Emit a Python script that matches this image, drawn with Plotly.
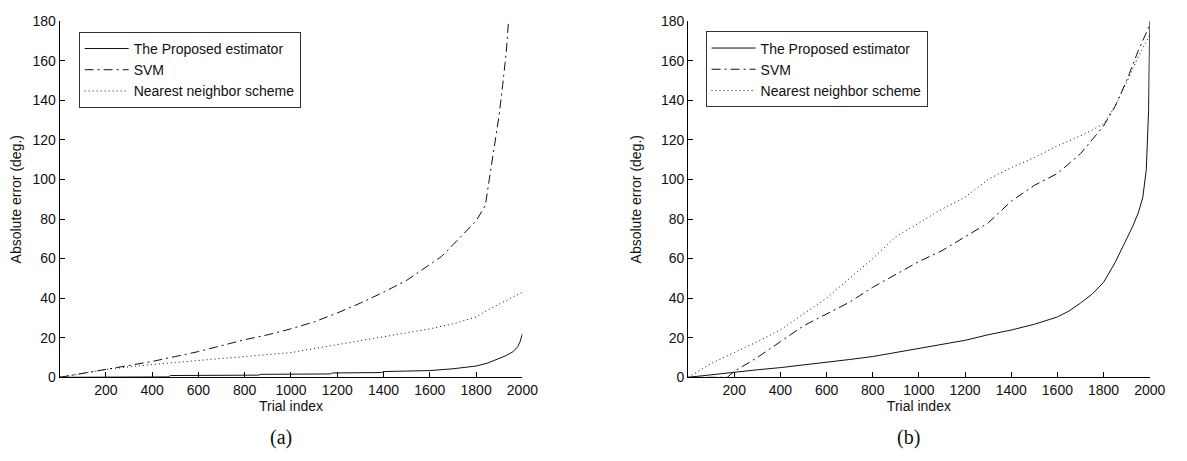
import plotly.graph_objects as go

# ---------------- data ----------------
# Panel (a)
trial_a_prop = [1, 470, 480, 860, 870, 1170, 1180, 1390, 1400, 1570, 1600, 1700, 1800, 1850,
                1900, 1930, 1960, 1980, 1990, 2000]
err_a_prop = [0, 0.2, 0.9, 1.1, 1.5, 1.7, 2.2, 2.4, 2.9, 3.1, 3.4, 4.3, 5.7, 7.2,
              9.6, 11, 13, 15.5, 18, 22]

trial_a_svm = [1, 100, 200, 300, 400, 500, 600, 700, 800, 900, 1000, 1100, 1200, 1300, 1400,
               1500, 1600, 1650, 1700, 1750, 1800, 1840, 1860, 1880, 1900, 1915, 1930, 1940]
err_a_svm = [0, 2, 4, 6, 8, 10.5, 13, 16, 19, 21.5, 24.5, 28, 32.5, 37.5, 43,
             49, 57, 61, 67, 73, 79, 87, 102, 118, 133, 148, 164, 180]

trial_a_nn = [1, 100, 200, 300, 400, 500, 600, 700, 800, 900, 1000, 1100, 1200, 1300, 1400,
              1500, 1600, 1700, 1800, 1850, 1900, 1950, 2000]
err_a_nn = [0, 2, 4, 5.3, 6.5, 7.5, 8.5, 9.5, 10.5, 11.5, 12.5, 14.5, 16.5, 18.5, 20.5,
            22.5, 24.5, 27, 30.5, 34, 37, 40, 43]

# Panel (b)
trial_b_prop = [1, 100, 200, 300, 400, 500, 600, 700, 800, 900, 1000, 1100, 1200, 1300, 1400,
                1500, 1600, 1650, 1700, 1750, 1800, 1850, 1900, 1925, 1950, 1970, 1985, 1995, 2000]
err_b_prop = [0, 1.3, 2.7, 3.8, 4.9, 6.2, 7.6, 9, 10.5, 12.5, 14.4, 16.5, 18.7, 21.5, 23.9,
              26.8, 30.5, 33.5, 37.5, 42, 48, 58, 70, 76, 83, 91, 105, 135, 180]

trial_b_svm = [1, 170, 200, 300, 400, 450, 500, 600, 700, 800, 900, 1000, 1100, 1200, 1300,
               1400, 1500, 1600, 1700, 1800, 1850, 1900, 1950, 2000]
err_b_svm = [0, 0, 3, 10, 18, 22, 26, 32, 38, 45.5, 52, 58.5, 64, 71, 78,
             89, 97, 103, 113, 127, 137, 150, 165, 178]

trial_b_nn = [1, 100, 200, 300, 400, 500, 600, 700, 800, 900, 1000, 1100, 1200, 1300, 1400,
              1500, 1600, 1700, 1800, 1850, 1900, 1950, 2000]
err_b_nn = [0, 7, 12.5, 18, 24, 32, 40, 50, 60, 71, 78, 85, 91, 100, 106,
            111, 117, 122, 128, 137, 149, 162, 173]

series_names = ["The Proposed estimator", "SVM", "Nearest neighbor scheme"]
x_ticks = [200, 400, 600, 800, 1000, 1200, 1400, 1600, 1800, 2000]
y_ticks = [0, 20, 40, 60, 80, 100, 120, 140, 160, 180]
x_title = "Trial index"
y_title = "Absolute error (deg.)"
captions = ["(a)", "(b)"]

# ---------------- styling ----------------
W, H = 1187, 461
OFF = 8  # page body margin offset
LINE_COLOR = "#111111"
TXT = "#111111"
FONT = "Liberation Sans, Arial, sans-serif"
FS = 14
dashes = ["solid", "9px,4px,2px,4px", "1px,3px"]


def fx(px):
    return (px - OFF) / W


def fy(py):
    return 1 - (py - OFF) / H


fig = go.Figure()

panels = [
    ("x", "y", "legend", [(trial_a_prop, err_a_prop), (trial_a_svm, err_a_svm), (trial_a_nn, err_a_nn)]),
    ("x2", "y2", "legend2", [(trial_b_prop, err_b_prop), (trial_b_svm, err_b_svm), (trial_b_nn, err_b_nn)]),
]
for xa, ya, lg, series in panels:
    for name, (xs, ys), dash in zip(series_names, series, dashes):
        fig.add_trace(go.Scatter(x=xs, y=ys, mode="lines", name=name, xaxis=xa, yaxis=ya,
                                 legend=lg, line=dict(color=LINE_COLOR, width=1, dash=dash)))

xdom_a = [fx(58.3), fx(528.3)]
xdom_b = [fx(696.5), fx(1165.3)]
ydom = [fy(382.3), fy(13.3)]

axis_common = dict(showline=True, linecolor="black", linewidth=1, ticks="inside", ticklen=5,
                   tickcolor="black", showgrid=False, zeroline=False, mirror=False,
                   ticklabeloverflow="allow",
                   tickfont=dict(family=FONT, size=FS, color=TXT))
title_font = dict(family=FONT, size=FS, color=TXT)
legend_common = dict(xanchor="left", yanchor="top", bordercolor="#333333", borderwidth=1,
                     bgcolor="white", font=dict(family=FONT, size=FS, color=TXT),
                     itemwidth=44, tracegroupgap=0)

fig.update_layout(
    width=W, height=H,
    margin=dict(l=0, r=0, t=0, b=0),
    paper_bgcolor="white", plot_bgcolor="white",
    showlegend=True,
    xaxis=dict(domain=xdom_a, range=[0, 2000], tickvals=x_ticks, anchor="y", **axis_common,
               title=dict(text=x_title, font=title_font, standoff=1)),
    yaxis=dict(domain=ydom, range=[0, 180], tickvals=y_ticks, anchor="x", **axis_common,
               title=dict(text=y_title, font=title_font, standoff=15)),
    xaxis2=dict(domain=xdom_b, range=[0, 2000], tickvals=x_ticks, anchor="y2", **axis_common,
                title=dict(text=x_title, font=title_font, standoff=1)),
    yaxis2=dict(domain=ydom, range=[0, 180], tickvals=y_ticks, anchor="x2", **axis_common,
                title=dict(text=y_title, font=title_font, standoff=15)),
    legend=dict(x=fx(77.7), y=fy(24.5), **legend_common),
    legend2=dict(x=fx(714.3), y=fy(24.0), **legend_common),
)

for cap, cx in zip(captions, [283, 920]):
    fig.add_annotation(text=cap, x=fx(cx), y=fy(445), xref="paper", yref="paper",
                       xanchor="center", yanchor="middle", showarrow=False,
                       font=dict(family="Liberation Serif, Times New Roman, serif", size=20,
                                 color=TXT))

fig.write_html("out.html")
